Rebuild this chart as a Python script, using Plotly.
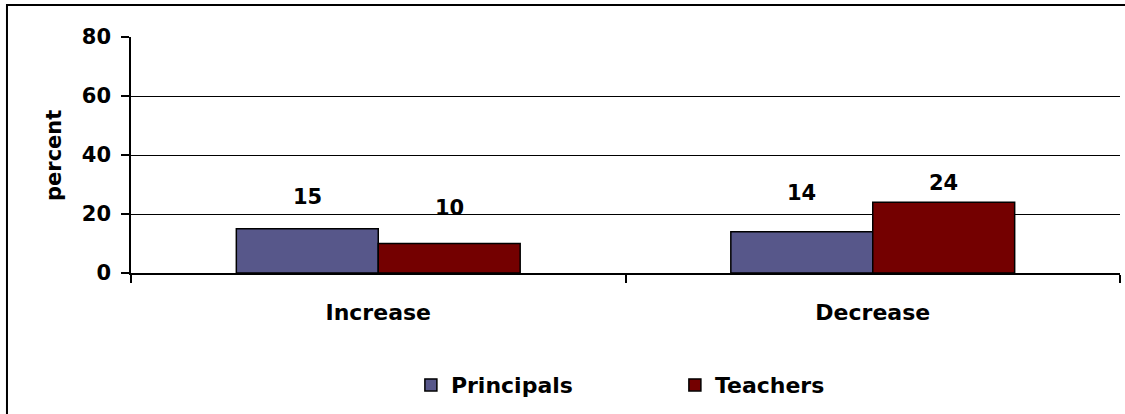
import plotly.graph_objects as go

categories = ["Increase", "Decrease"]
principals = [15, 14]
teachers = [10, 24]
y_ticks = [0, 20, 40, 60, 80]

# style: vertical pixel offset of each data label above its bar (Principals, Teachers)
label_yshift = {"Principals": [32, 39], "Teachers": [36, 19]}

FONT = "DejaVu Sans, Liberation Sans, Arial, sans-serif"

fig = go.Figure()
fig.add_trace(go.Bar(
    name="Principals", x=categories, y=principals,
    marker=dict(color="#57578a", line=dict(color="#000000", width=1.5)),
))
fig.add_trace(go.Bar(
    name="Teachers", x=categories, y=teachers,
    marker=dict(color="#740000", line=dict(color="#000000", width=1.5)),
))

annos = []
for name, series, shift in (("Principals", principals, -71), ("Teachers", teachers, 71)):
    for i, (c, v) in enumerate(zip(categories, series)):
        annos.append(dict(
            x=c, y=v, xref="x", yref="y", text=f"<b>{v}</b>", showarrow=False,
            xshift=shift, yshift=label_yshift[name][i], yanchor="middle",
            font=dict(family=FONT, size=21, color="#000000"),
        ))
annos.append(dict(
    x=-0.0779, y=0.5, xref="paper", yref="paper", text="<b>percent</b>",
    showarrow=False, textangle=-90, xanchor="center", yanchor="middle",
    font=dict(family=FONT, size=21, color="#000000"),
))

fig.update_layout(
    width=1125, height=414,
    margin=dict(l=131, r=5, t=37, b=141),
    paper_bgcolor="#ffffff", plot_bgcolor="#ffffff",
    barmode="group", bargap=0.426, bargroupgap=0,
    font=dict(family=FONT, color="#000000"),
    annotations=annos,
    showlegend=True,
    legend=dict(
        orientation="h", x=0.283, xanchor="left", y=-0.475, yanchor="middle",
        font=dict(family=FONT, size=22, color="#000000", weight="bold"),
        entrywidth=219, itemwidth=30, bgcolor="rgba(0,0,0,0)",
    ),
    shapes=[dict(
        type="rect", xref="paper", yref="paper",
        x0=-0.1254, x1=1.01, y0=-0.62, y1=1.1356,
        line=dict(color="#000000", width=2), fillcolor="rgba(0,0,0,0)", layer="below",
    )],
)
fig.update_xaxes(
    automargin=False,
    showline=True, linecolor="#000000", linewidth=1.5,
    ticks="outside", tickson="boundaries", ticklen=8, tickcolor="#000000", tickwidth=1.5,
    ticklabelstandoff=19,
    tickfont=dict(family=FONT, size=22, color="#000000", weight="bold"),
    showgrid=False,
)
fig.update_yaxes(
    automargin=False,
    range=[0, 80], tickvals=y_ticks, ticktext=[str(t) for t in y_ticks],
    showline=True, linecolor="#000000", linewidth=1.5,
    ticks="outside", ticklen=8, tickcolor="#000000", tickwidth=1.5,
    ticklabelstandoff=6,
    tickfont=dict(family=FONT, size=21, color="#000000", weight="bold"),
    showgrid=True, gridcolor="#000000", gridwidth=1.2, zeroline=False,
)

fig.write_html(
    "out.html",
    config={"displayModeBar": False},
    post_script="document.body.style.margin='0';",
)
